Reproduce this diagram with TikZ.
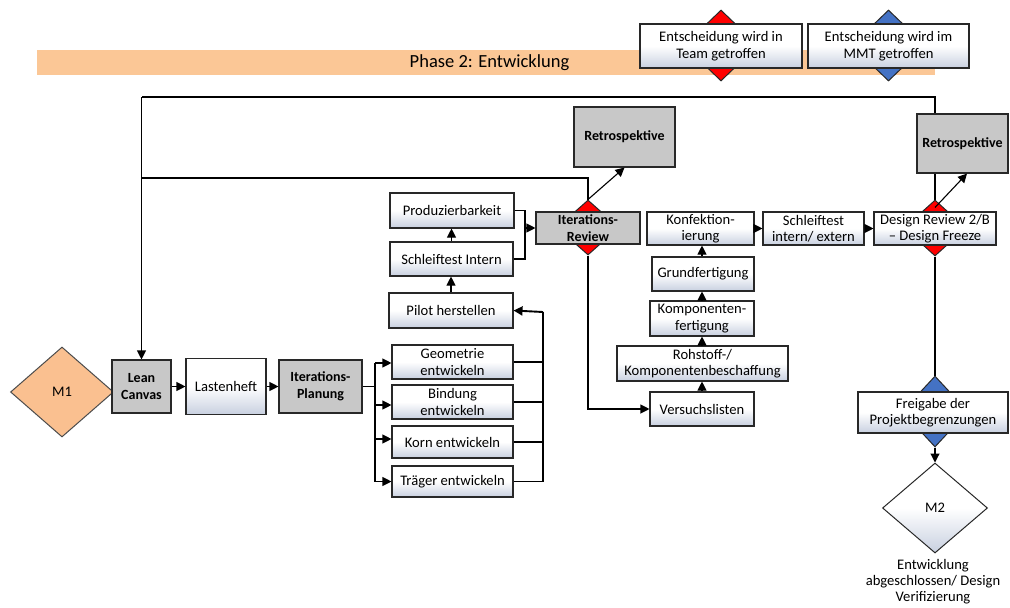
\documentclass[tikz,border=0pt]{standalone}
\usepackage{fontspec}
\setmainfont{Carlito}
\usetikzlibrary{shapes.geometric,arrows.meta,calc,backgrounds}

\definecolor{bandorange}{RGB}{251,199,150}
\definecolor{mileorange}{RGB}{250,192,144}
\definecolor{boxgrey}{RGB}{200,200,200}
\definecolor{boxbottom}{RGB}{200,208,224}
\definecolor{edge}{RGB}{40,40,40}
\definecolor{decred}{RGB}{255,0,0}
\definecolor{decblue}{RGB}{68,114,196}

\tikzset{
  txt/.style={font=\fontsize{14.6}{16.5}\selectfont},
  box/.style={rectangle, draw=edge, line width=1.1pt, top color=white,
    bottom color=boxbottom, middle color=white, align=center, inner sep=1pt, txt},
  gbox/.style={rectangle, draw=edge, line width=1.1pt, fill=boxgrey, align=center,
    inner sep=1pt, font=\fontsize{14}{16.5}\selectfont\bfseries},
  dec/.style={diamond, draw=edge, line width=1pt, inner sep=0pt},
  conn/.style={line width=1.1pt, draw=black},
  arr/.style={conn, -{Triangle[length=9pt,width=9pt]}},
  trunk/.style={line width=1.9pt},
}

\begin{document}
\begin{tikzpicture}[x=1pt,y=-1pt]
\useasboundingbox (0,0) rectangle (1010,608);

% phase band
\fill[bandorange] (37,50) rectangle (935,75);
\node[font=\fontsize{18.5}{20}\selectfont, inner sep=0pt] (phase) at (489.5,63) {Phase 2: Entwicklung};

% legend
\node[dec, fill=decred, minimum width=74, minimum height=71] (legdA) at (721,45.5) {};
\node[box, minimum width=162, minimum height=44] (legA) at (721,46) {Entscheidung wird in\\Team getroffen};
\node[dec, fill=decblue, minimum width=74, minimum height=71] (legdB) at (888.5,45.5) {};
\node[box, minimum width=161, minimum height=44] (legB) at (888.5,46) {Entscheidung wird im\\MMT getroffen};

% start
\node[dec, fill=mileorange, draw=black!70, minimum width=103, minimum height=90, txt] (M1) at (62,392) {};
\node[txt] (M1t) at (62,392) {M1};
\node[gbox, minimum width=59, minimum height=53] (LC) at (141.5,386.5) {Lean\\Canvas};
\node[box, minimum width=80, minimum height=56] (LH) at (226,386.5) {Lastenheft};
\node[gbox, minimum width=83, minimum height=53] (IP) at (320.5,386.5) {Iterations-\\Planung};

% development tasks
\node[box, minimum width=121, minimum height=34] (GEO) at (452.5,362) {Geometrie\\entwickeln};
\node[box, minimum width=121, minimum height=34] (BIN) at (452.5,402) {Bindung\\entwickeln};
\node[box, minimum width=121, minimum height=32] (KOR) at (452.5,442) {Korn entwickeln};
\node[box, minimum width=121, minimum height=31] (TRG) at (452.5,481.5) {Träger entwickeln};

\node[box, minimum width=124, minimum height=35] (PIL) at (451,310.5) {Pilot herstellen};
\node[box, minimum width=123, minimum height=34] (SIN) at (451.5,259) {Schleiftest Intern};
\node[box, minimum width=124, minimum height=35] (PRO) at (452,210.5) {Produzierbarkeit};

% iteration review
\node[dec, fill=decred, minimum width=62, minimum height=55] (IRd) at (588,227.5) {};
\node[gbox, minimum width=104, minimum height=32] (IR) at (588,228) {Iterations-\\Review};
\node[gbox, minimum width=101, minimum height=60] (R1) at (624.5,137) {Retrospektive};

% production chain
\node[box, minimum width=104, minimum height=34] (VL) at (702,409) {Versuchslisten};
\node[box, minimum width=171, minimum height=35] (RK) at (702.5,363.5) {Rohstoff-/\\Komponentenbeschaffung};
\node[box, minimum width=104, minimum height=35] (KF) at (702,318.5) {Komponenten-\\fertigung};
\node[box, minimum width=102, minimum height=34] (GF) at (703,274) {Grundfertigung};
\node[box, minimum width=107, minimum height=33] (KO) at (700.5,228.5) {Konfektion-\\ierung};
\node[box, minimum width=101, minimum height=33] (SIE) at (813.5,228.5) {Schleiftest\\intern/ extern};

% design review
\node[dec, fill=decred, minimum width=62, minimum height=56] (DRd) at (935,228) {};
\node[box, minimum width=122, minimum height=33] (DR) at (935,228.5) {Design Review 2/B\\– Design Freeze};
\node[gbox, minimum width=91, minimum height=59] (R2) at (962.5,143.5) {Retrospektive};

% release and milestone
\node[dec, fill=decblue, minimum width=66, minimum height=71] (FRd) at (935,411.5) {};
\node[box, minimum width=150, minimum height=41] (FR) at (933,412.5) {Freigabe der\\Projektbegrenzungen};
\node[dec, top color=white, bottom color=boxbottom, middle color=white, minimum width=105, minimum height=90] (M2) at (935,508) {};
\node[txt] (M2t) at (935,508) {M2};
\node[txt, align=center, font=\fontsize{14.6}{16}\selectfont] (M2l) at (933,582) {Entwicklung\\abgeschlossen/ Design\\Verifizierung};

% loop coordinates
\coordinate (lpTop) at (141.5,97);
\coordinate (lpMid) at (141.5,178);
\coordinate (br) at (375,386.5);
\coordinate (col) at (543,312);
\coordinate (jn) at (525,228);

% feedback loops behind the boxes
\begin{scope}[on background layer]
  \draw[conn] (DRd.north) |- (lpTop);
  \draw[arr] (lpTop) -- (LC.north);
  \draw[conn] (IRd.north) |- (lpMid);
\end{scope}

% main flow
\draw[arr] (LC.east) -- (LH.west);
\draw[arr] (LH.east) -- (IP.west);
\draw[conn, trunk] (IP.east) -- (br);
\draw[arr] (375,363) -- (GEO.west |- 0,363);
\draw[arr] (br) |- (BIN.west |- 0,405);
\draw[arr] (br) |- (KOR.west |- 0,439);
\draw[arr] (br) |- (TRG.west);
\draw[conn, line width=1.4pt] (br) -- (375,363);

\draw[conn] (GEO.east) -| (col);
\draw[conn] (BIN.east) -| (col);
\draw[conn] (KOR.east) -| (col);
\draw[conn] (TRG.east) -| (col);
\draw[conn, trunk] (TRG.east -| col) -- (col);
\draw[arr, trunk] (col) -- (PIL.east);

\draw[arr] (PIL.north) -- (PIL.north |- SIN.south);
\draw[arr] (SIN.north) -- (SIN.north |- PRO.south);
\draw[conn] (PRO.east) -| (jn);
\draw[conn] (SIN.east) -| (jn);
\draw[arr] (jn) -- (IR.west);

\draw[arr] (IRd.north) -- (R1.south);
\draw[arr] (IRd.south) |- (VL.west);

\draw[arr] (VL.north) -- (VL.north |- RK.south);
\draw[arr] (RK.north -| VL.north) -- (VL.north |- KF.south);
\draw[arr] (KF.north -| VL.north) -- (VL.north |- GF.south);
\draw[arr] (GF.north -| VL.north) -- (VL.north |- KO.south);
\draw[arr] (KO.east) -- (SIE.west);
\draw[arr] (SIE.east) -- (DR.west);

\draw[arr] ($(DRd.north)+(0,8)$) -- ($(R2.south)+(4.5,0)$);
\draw[conn] (DRd.south) -- (FRd.north);
\draw[arr] (FRd.south) -- (M2.north);
\end{tikzpicture}
\end{document}
